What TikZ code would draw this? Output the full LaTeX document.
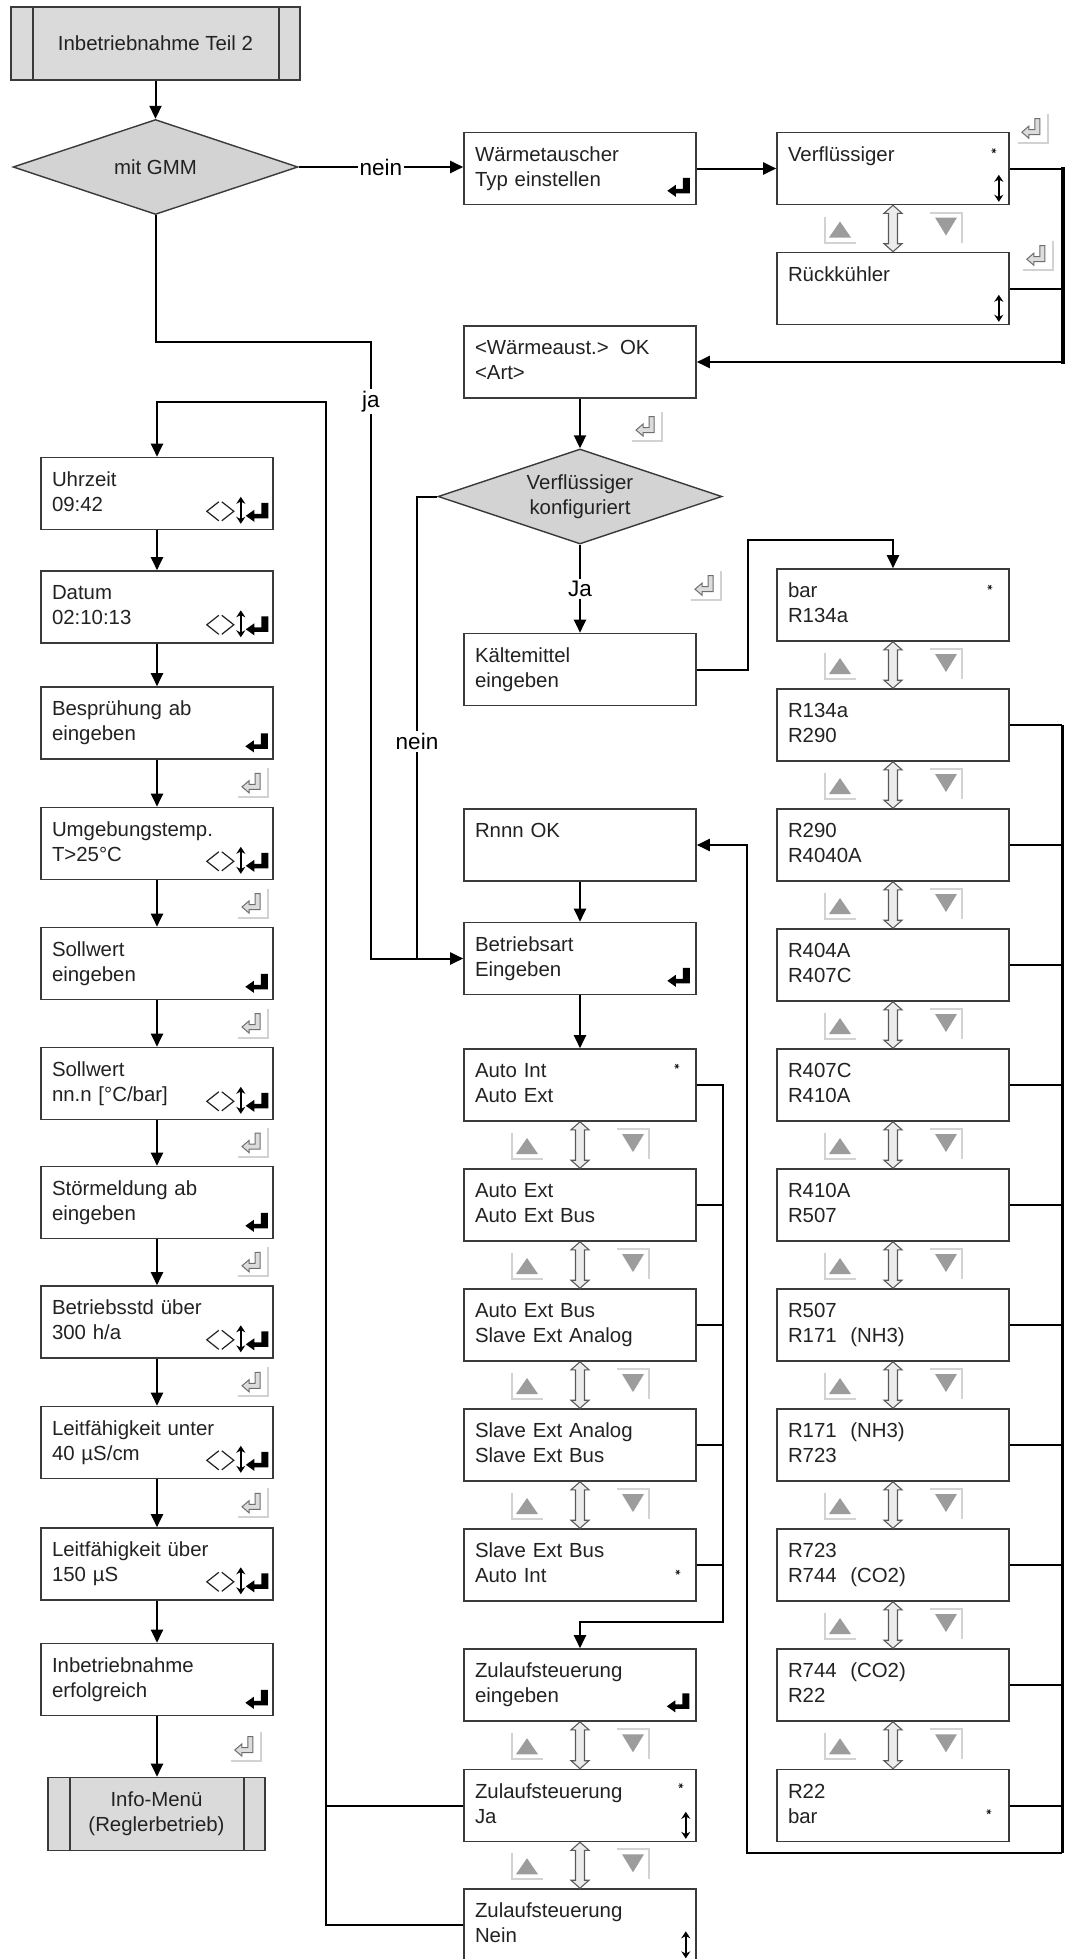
\documentclass[tikz,border=0pt]{standalone}
\usepackage{fontspec}
\setmainfont{Liberation Sans}
\usetikzlibrary{shapes.geometric,arrows.meta,calc}
\definecolor{boxline}{HTML}{3A3A3A}
\definecolor{txt}{HTML}{222222}
\definecolor{startfill}{HTML}{DADADA}
\definecolor{diafill}{HTML}{D3D3D3}
\definecolor{icongray}{HTML}{9C9C9C}
\definecolor{framegray}{HTML}{D2D2D2}
\definecolor{dblfill}{HTML}{ECECEC}
\definecolor{dblline}{HTML}{5A5A5A}
\definecolor{enterfill}{HTML}{DCDCDC}
\definecolor{enterline}{HTML}{6E6E6E}
\newcommand\bxfont{\fontsize{20.4}{25}\selectfont}
\newcommand\lbfont{\fontsize{22.5}{26}\selectfont}
\newcommand\twol[2]{\strut #1\\\strut #2}
\newcommand\onel[1]{\strut #1\\\strut}
\newcommand\genter[1]{%
  \begin{scope}[shift={#1}]
    \draw[framegray,line width=2pt] (-15,14) -- (15,14) -- (15,-15);
    \draw[enterline,line width=1pt,fill=enterfill,line join=miter] (2,-10) -- (7,-10) -- (7,6) -- (-4,6) -- (-4,9.5) -- (-11,3.5) -- (-4,-2.5) -- (-4,1) -- (2,1) -- cycle;
  \end{scope}}
\newcommand\benter[1]{\fill[black,shift={#1}] (4,-9.5) -- (11,-9.5) -- (11,6) -- (-3,6) -- (-3,9.5) -- (-11.5,3.5) -- (-3,-2.5) -- (-3,1.5) -- (4,1.5) -- cycle;}
\newcommand\updn[1]{\draw[line width=2pt,{Stealth[length=7pt,width=9pt]}-{Stealth[length=7pt,width=9pt]},shift={#1}] (0,-13.5) -- (0,13.5);}
\newcommand\astk[1]{\draw[line width=0.9pt,txt,shift={#1}] (-2.5,0) -- (2.5,0) (-1.3,-2.2) -- (1.3,2.2) (-1.3,2.2) -- (1.3,-2.2);}
\newcommand\ctrl[1]{%
  \draw[line width=1.2pt,txt,line join=miter] ($(#1.south east)+(-55,-28.5)$) -- ++(-12,9.5) -- ++(12,9.5);
  \draw[line width=1.2pt,txt,line join=miter] ($(#1.south east)+(-52,-28.5)$) -- ++(12,9.5) -- ++(-12,9.5);
  \updn{($(#1.south east)+(-33,-20)$)}
  \benter{($(#1.south east)+(-16.5,-18)$)}}
\newcommand\upicon[1]{%
  \begin{scope}[shift={#1}]
    \draw[framegray,line width=2pt] (-16,-14) -- (-16,12) -- (15,12);
    \fill[icongray] (-12,7) -- (10,7) -- (-1,-9) -- cycle;
  \end{scope}}
\newcommand\downicon[1]{%
  \begin{scope}[shift={#1}]
    \draw[framegray,line width=2pt] (-16,-15) -- (16,-15) -- (16,15);
    \fill[icongray] (-11,-10) -- (11,-10) -- (0,8) -- cycle;
  \end{scope}}
\newcommand\gapicons[2]{%
  \draw[dblline,line width=1.1pt,fill=dblfill,line join=miter] (#1.south) -- ($(#1.south)+(9,8)$) -- ($(#1.south)+(4.5,8)$) -- ($(#2.north)+(4.5,-8)$) -- ($(#2.north)+(9,-8)$) -- (#2.north) -- ($(#2.north)+(-9,-8)$) -- ($(#2.north)+(-4.5,-8)$) -- ($(#1.south)+(-4.5,8)$) -- ($(#1.south)+(-9,8)$) -- cycle;
  \upicon{($(#1.south)!0.5!(#2.north)+(-52,2)$)}
  \downicon{($(#1.south)!0.5!(#2.north)+(53,-1)$)}}
\tikzset{
  box/.style={draw=boxline,line width=1.6pt,fill=white,minimum width=232pt,minimum height=72pt,
    text width=210pt,inner xsep=11pt,inner ysep=0pt,align=left,font=\bxfont,text=txt},
  grbox/.style={draw=boxline,line width=1.6pt,fill=startfill,minimum height=73pt,inner sep=0pt,
    align=center,font=\bxfont,text=txt},
  dec/.style={diamond,draw=boxline,line width=1.4pt,fill=diafill,inner sep=0pt,aspect=3,
    minimum height=95pt,align=center,font=\bxfont,text=txt},
  conn/.style={line width=2pt,draw=black},
  arr/.style={conn,-{Triangle[length=13pt,width=12pt]}},
  lbl/.style={fill=white,font=\lbfont,inner sep=2pt,text=black}
}
\begin{document}
\begin{tikzpicture}[x=1pt,y=-1pt]
\useasboundingbox (0,0) rectangle (1069,1959);
\fill[white] (0,0) rectangle (1069,1959);

% ---------- top ----------
\node[grbox,minimum width=289pt] (start) at (155.5,43.5) {Inbetriebnahme Teil 2};
\draw[boxline,line width=1.6pt] ($(start.north west)+(23,0)$) -- ($(start.south west)+(23,0)$)
  ($(start.north east)+(-22,0)$) -- ($(start.south east)+(-22,0)$);
\node[dec,minimum width=285pt] (dia1) at (155.5,167) {mit GMM};

% ---------- middle column ----------
\node[box] (wt) at (580,168.5) {\twol{Wärmetauscher}{Typ einstellen}};
\node[box] (wae) at (580,362) {\twol{<Wärmeaust.>\hspace{0.55em}OK}{<Art>}};
\node[dec,minimum width=284pt] (dia2) at (580,496.5) {Verflüssiger\\konfiguriert};
\node[box] (kalt) at (580,669.5) {\twol{Kältemittel}{eingeben}};
\node[box] (rnnn) at (580,845) {\onel{Rnnn OK}};
\node[box] (betr) at (580,958.5) {\twol{Betriebsart}{Eingeben}};
\node[box] (ai) at (580,1085) {\twol{Auto Int}{Auto Ext}};
\node[box] (ae) at (580,1205) {\twol{Auto Ext}{Auto Ext Bus}};
\node[box] (aeb) at (580,1325) {\twol{Auto Ext Bus}{Slave Ext Analog}};
\node[box] (sea) at (580,1445) {\twol{Slave Ext Analog}{Slave Ext Bus}};
\node[box] (seb) at (580,1565) {\twol{Slave Ext Bus}{Auto Int}};
\node[box] (zein) at (580,1685) {\twol{Zulaufsteuerung}{eingeben}};
\node[box] (zja) at (580,1805.5) {\twol{Zulaufsteuerung}{Ja}};
\node[box] (znein) at (580,1925) {\twol{Zulaufsteuerung}{Nein}};

% ---------- right column ----------
\node[box] (verfl) at (893,168.5) {\onel{Verflüssiger}};
\node[box] (rueck) at (893,288.5) {\onel{Rückkühler}};
\node[box] (r0) at (893,605) {\twol{bar}{R134a}};
\node[box] (r1) at (893,725) {\twol{R134a}{R290}};
\node[box] (r2) at (893,845) {\twol{R290}{R4040A}};
\node[box] (r3) at (893,965) {\twol{R404A}{R407C}};
\node[box] (r4) at (893,1085) {\twol{R407C}{R410A}};
\node[box] (r5) at (893,1205) {\twol{R410A}{R507}};
\node[box] (r6) at (893,1325) {\twol{R507}{R171\ \ (NH3)}};
\node[box] (r7) at (893,1445) {\twol{R171\ \ (NH3)}{R723}};
\node[box] (r8) at (893,1565) {\twol{R723}{R744\ \ (CO2)}};
\node[box] (r9) at (893,1685) {\twol{R744\ \ (CO2)}{R22}};
\node[box] (r10) at (893,1805.5) {\twol{R22}{bar}};

% ---------- left column ----------
\node[box] (uhr) at (157,493.5) {\twol{Uhrzeit}{09:42}};
\node[box] (dat) at (157,607) {\twol{Datum}{02:10:13}};
\node[box] (bes) at (157,723) {\twol{Besprühung ab}{eingeben}};
\node[box] (umg) at (157,843.5) {\twol{Umgebungstemp.}{T>25°C}};
\node[box] (sol) at (157,963.5) {\twol{Sollwert}{eingeben}};
\node[box] (snn) at (157,1083.5) {\twol{Sollwert}{nn.n [°C/bar]}};
\node[box] (stm) at (157,1202.5) {\twol{Störmeldung ab}{eingeben}};
\node[box] (bst) at (157,1322) {\twol{Betriebsstd über}{300 h/a}};
\node[box] (lfu) at (157,1442.5) {\twol{Leitfähigkeit unter}{40 µS/cm}};
\node[box] (lfo) at (157,1564) {\twol{Leitfähigkeit über}{150 µS}};
\node[box] (erf) at (157,1679.5) {\twol{Inbetriebnahme}{erfolgreich}};
\node[grbox,minimum width=217pt] (info) at (156.5,1814) {Info-Menü\\(Reglerbetrieb)};
\draw[boxline,line width=1.6pt] ($(info.north west)+(23,0)$) -- ($(info.south west)+(23,0)$)
  ($(info.north east)+(-22,0)$) -- ($(info.south east)+(-22,0)$);

% ---------- helper coordinates ----------
\coordinate (jc1) at (155.5,342);
\coordinate (jc2) at (371,342);
\coordinate (jc3) at (371,958.5);
\coordinate (nc1) at (417,496.5);
\coordinate (nc2) at (417,958.5);
\coordinate (bt) at (1063,168.5);
\coordinate (bb) at (1063,362);
\coordinate (kc) at (748,540);
\coordinate (rbb) at (1062,1853);
\coordinate (rbl) at (747,1853);
\coordinate (mb) at (723,1622);
\coordinate (lt) at (326,402);

% ---------- connectors ----------
\draw[arr] (start) -- (dia1);
\draw[arr] (dia1.east) -- node[lbl]{nein} (dia1.east -| wt.west);
\draw[arr] (wt) -- (verfl);
\draw[conn] (verfl.east) -- (bt);
\draw[conn] (rueck.east) -- (rueck.east -| bt);
\draw[conn,line width=3.5pt,line cap=rect] (bt) -- (bb);
\draw[arr] (bb) -- (wae.east);
\draw[arr] (wae) -- (dia2);
\draw[arr] (dia2) -- node[lbl]{Ja} (kalt);
\draw[arr] (kalt.east) -| (kc) -| (r0.north);
\foreach \k in {1,...,10} {\draw[conn] (r\k.east) -- (r\k.east -| rbb);}
\draw[conn,line width=3pt] (r1.east -| rbb) -- (rbb);
\draw[arr] (rbb) -- (rbl) |- (rnnn.east);
\draw[arr] (rnnn) -- (betr);
\draw[arr] (dia1.south) -- (jc1) -- (jc2) -- node[lbl,pos=0.097]{ja} (jc3) -- (betr.west);
\draw[conn] (dia2.west) -- (nc1) -- node[lbl,pos=0.53]{nein} (nc2);
\draw[arr] (betr) -- (ai);
\draw[arr] (ai.east) -- (ai.east -| mb) -- (mb) -| (zein.north);
\foreach \n in {ae,aeb,sea,seb} {\draw[conn] (\n.east) -- (\n.east -| mb);}
\draw[arr] (znein.west) -- (znein.west -| lt) -- (lt) -| (uhr.north);
\draw[conn] (zja.west) -- (zja.west -| lt);
\draw[arr] (uhr) -- (dat);
\draw[arr] (dat) -- (bes);
\draw[arr] (bes) -- (umg);
\draw[arr] (umg) -- (sol);
\draw[arr] (sol) -- (snn);
\draw[arr] (snn) -- (stm);
\draw[arr] (stm) -- (bst);
\draw[arr] (bst) -- (lfu);
\draw[arr] (lfu) -- (lfo);
\draw[arr] (lfo) -- (erf);
\draw[arr] (erf) -- (erf.south |- info.north);

% ---------- icons in boxes ----------
\benter{($(wt.south east)+(-18,-18)$)}
\benter{($(betr.south east)+(-18,-18)$)}
\benter{($(zein.south east)+(-18.5,-19)$)}
\benter{($(bes.south east)+(-17,-17)$)}
\benter{($(sol.south east)+(-17,-17)$)}
\benter{($(stm.south east)+(-17,-17)$)}
\benter{($(erf.south east)+(-17,-17)$)}
\foreach \n in {uhr,dat,umg,snn,bst,lfu,lfo} {\ctrl{\n}}
\updn{($(verfl.south east)+(-11,-17)$)}
\updn{($(rueck.south east)+(-11,-17)$)}
\updn{($(zja.south east)+(-11,-17)$)}
\updn{($(znein.south east)+(-11,-17)$)}
\astk{($(verfl.north east)+(-16,19)$)}
\astk{($(ai.north east)+(-20,18)$)}
\astk{($(r0.north east)+(-20,19)$)}
\astk{($(zja.north east)+(-16,17)$)}
\astk{($(seb.north east)+(-19,44)$)}
\astk{($(r10.north east)+(-21,43)$)}

% ---------- icons between boxes ----------
\gapicons{verfl}{rueck}
\foreach \a/\b in {r0/r1,r1/r2,r2/r3,r3/r4,r4/r5,r5/r6,r6/r7,r7/r8,r8/r9,r9/r10} {\gapicons{\a}{\b}}
\foreach \a/\b in {ai/ae,ae/aeb,aeb/sea,sea/seb,zein/zja,zja/znein} {\gapicons{\a}{\b}}

\genter{($(verfl.north east)+(23,-3)$)}
\genter{($(rueck.north east)+(28,4)$)}
\genter{($(wae.south)!0.5!(dia2.north)+(67,3)$)}
\genter{($(dia2.south)!0.5!(kalt.north)+(126,-3)$)}
\foreach \a/\b in {bes/umg,umg/sol,sol/snn,snn/stm,stm/bst,bst/lfu,lfu/lfo} {\genter{($(\a.south)!0.5!(\b.north)+(96,0)$)}}
\genter{($(erf.south)!0.5!(info.north)+(89,0)$)}
\end{tikzpicture}
\end{document}
